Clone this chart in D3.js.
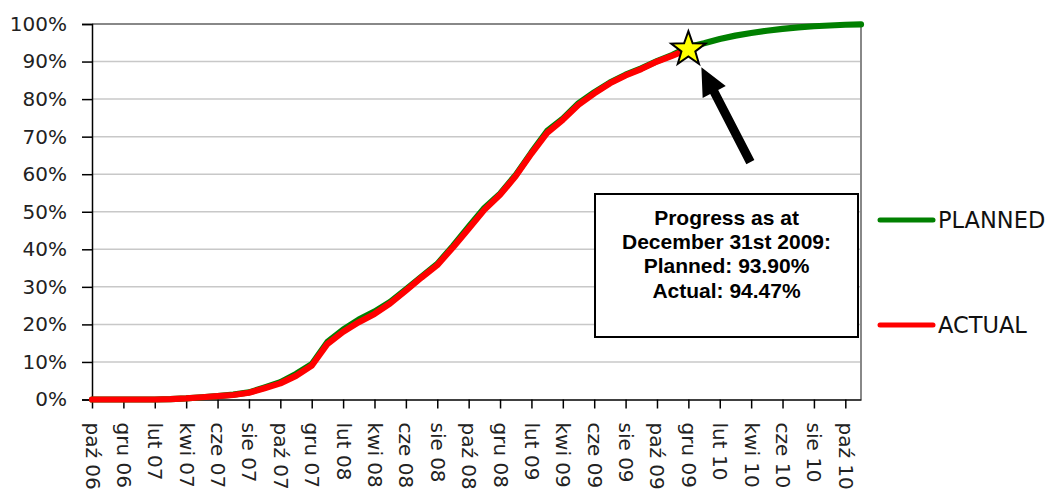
<!DOCTYPE html>
<html lang="pl">
<head>
<meta charset="UTF-8">
<title>Progress</title>
<script src="https://d3js.org/d3.v7.min.js"></script>
<style>
  body { margin: 0; background: #fff; }
  svg { display: block; }
  .tick-label { font-family: "DejaVu Sans", sans-serif; font-size: 20px; fill: #222; }
  .legend-label { font-family: "DejaVu Sans", sans-serif; font-size: 22.5px; fill: #111; }
  .note { font-family: "Liberation Sans", Arial, sans-serif; font-size: 21px; font-weight: bold; fill: #000; }
</style>
</head>
<body>
<div id="chart"></div>
<script>
// monthly categories, Oct 2006 .. Nov 2010
const months = [
  "paź 06", "lis 06", "gru 06", "sty 07", "lut 07", "mar 07", "kwi 07", "maj 07", "cze 07", "lip 07",
  "sie 07", "wrz 07", "paź 07", "lis 07", "gru 07", "sty 08", "lut 08", "mar 08", "kwi 08", "maj 08",
  "cze 08", "lip 08", "sie 08", "wrz 08", "paź 08", "lis 08", "gru 08", "sty 09", "lut 09", "mar 09",
  "kwi 09", "maj 09", "cze 09", "lip 09", "sie 09", "wrz 09", "paź 09", "lis 09", "gru 09", "sty 10",
  "lut 10", "mar 10", "kwi 10", "maj 10", "cze 10", "lip 10", "sie 10", "wrz 10", "paź 10", "lis 10"
];

// labelled months on the x axis (every second one)
const tickMonths = months.filter((m, i) => i % 2 === 0);

// cumulative progress, %
const planned = [
  0, 0, 0, 0, 0, 0.1, 0.3, 0.6, 0.9, 1.3,
  1.9, 3.2, 4.6, 6.8, 9.4, 15.3, 18.6, 21.3, 23.4, 26.0,
  29.3, 32.7, 36.1, 40.9, 46.0, 51.0, 54.8, 59.8, 65.8, 71.5,
  74.8, 78.9, 81.8, 84.4, 86.5, 88.2, 90.1, 91.8, 93.9, 94.9,
  96.0, 96.9, 97.6, 98.2, 98.7, 99.1, 99.4, 99.6, 99.8, 99.9
];
const actual = [
  0, 0, 0, 0, 0, 0.1, 0.3, 0.6, 0.9, 1.2,
  1.8, 3.0, 4.3, 6.3, 9.0, 14.8, 18.0, 20.6, 22.8, 25.6,
  29.0, 32.5, 35.8, 40.5, 45.5, 50.5, 54.5, 59.5, 65.5, 71.0,
  74.5, 78.5, 81.5, 84.2, 86.3, 88.0, 90.0, 91.6, 93.3
];

const yTicks = [0, 10, 20, 30, 40, 50, 60, 70, 80, 90, 100];

const series = [
  {name: "PLANNED", values: planned, color: "#008000"},
  {name: "ACTUAL", values: actual, color: "#ff0000"}
];

const noteLines = ["Progress as at", "December 31st 2009:", "Planned: 93.90%", "Actual: 94.47%"];
const starMonth = "gru 09";

const W = 1050, H = 491;
const svg = d3.select("#chart").append("svg")
  .attr("width", W)
  .attr("height", H);

const x = d3.scalePoint().domain(months).range([92, 861]);
const y = d3.scaleLinear().domain([0, 100]).range([399.5, 24]);

// gridlines
svg.append("g")
  .selectAll("line")
  .data(yTicks.filter(t => t > 0 && t < 100))
  .join("line")
    .attr("x1", 92).attr("x2", 861)
    .attr("y1", d => y(d)).attr("y2", d => y(d))
    .attr("stroke", "#c8c8c8")
    .attr("stroke-width", 1.5);

// plot border top/right
svg.append("path")
  .attr("d", `M92,${y(100)}H861V${y(0)}`)
  .attr("fill", "none")
  .attr("stroke", "#888")
  .attr("stroke-width", 2);

// y axis
const yAxis = svg.append("g")
  .attr("transform", "translate(92,0)")
  .call(d3.axisLeft(y).tickValues(yTicks).tickSize(10).tickPadding(15).tickFormat(d => d + "%"));
yAxis.select(".domain").attr("stroke", "#000").attr("stroke-width", 1.5);
yAxis.selectAll(".tick line").attr("stroke", "#000").attr("stroke-width", 1.5);
yAxis.selectAll(".tick text").attr("class", "tick-label").attr("font-size", null).attr("font-family", null);

// x axis
const xAxis = svg.append("g")
  .attr("transform", `translate(0,${y(0)})`)
  .call(d3.axisBottom(x).tickValues(tickMonths).tickSize(9).tickSizeOuter(0));
xAxis.select(".domain").attr("stroke", "#000").attr("stroke-width", 1.5);
xAxis.selectAll(".tick line").attr("stroke", "#000").attr("stroke-width", 1.5);
xAxis.selectAll(".tick text")
  .attr("class", "tick-label")
  .attr("font-size", null).attr("font-family", null)
  .attr("transform", "rotate(90)")
  .attr("x", 23)
  .attr("y", 0)
  .attr("dy", "0.35em")
  .attr("text-anchor", "start");

// lines
const line = d3.line()
  .x((d, i) => x(months[i]))
  .y(d => y(d));

svg.append("g")
  .selectAll("path")
  .data(series)
  .join("path")
    .attr("d", d => line(d.values))
    .attr("fill", "none")
    .attr("stroke", d => d.color)
    .attr("stroke-width", 6.2)
    .attr("stroke-linejoin", "round")
    .attr("stroke-linecap", "round");

// star marker at the reporting date
const sx = x(starMonth), sy = y(actual[months.indexOf(starMonth)]);
const R = 18, r = 7.3;
const starPts = d3.range(10).map(k => {
  const a = -Math.PI / 2 + k * Math.PI / 5;
  const rr = k % 2 === 0 ? R : r;
  return [sx + rr * Math.cos(a), sy + rr * Math.sin(a)];
});
svg.append("polygon")
  .attr("points", starPts.map(p => p.join(",")).join(" "))
  .attr("fill", "#ffff00")
  .attr("stroke", "#000")
  .attr("stroke-width", 2)
  .attr("stroke-linejoin", "miter");

// arrow pointing to the star
const tip = [sx + 13, sy + 18], tail = [sx + 62, sy + 113];
const dx = tip[0] - tail[0], dy = tip[1] - tail[1];
const len = Math.hypot(dx, dy), ux = dx / len, uy = dy / len, nx = -uy, ny = ux;
const headLen = 28, headW = 13, shaftW = 4.5;
const base = [tip[0] - ux * headLen, tip[1] - uy * headLen];
const arrowPts = [
  [tail[0] + nx * shaftW, tail[1] + ny * shaftW],
  [base[0] + nx * shaftW, base[1] + ny * shaftW],
  [base[0] + nx * headW, base[1] + ny * headW],
  tip,
  [base[0] - nx * headW, base[1] - ny * headW],
  [base[0] - nx * shaftW, base[1] - ny * shaftW],
  [tail[0] - nx * shaftW, tail[1] - ny * shaftW]
];
svg.append("polygon")
  .attr("points", arrowPts.map(p => p.join(",")).join(" "))
  .attr("fill", "#000");

// annotation box
svg.append("rect")
  .attr("x", 595).attr("y", 194)
  .attr("width", 263).attr("height", 143)
  .attr("fill", "#fff")
  .attr("stroke", "#000")
  .attr("stroke-width", 2);

svg.append("g")
  .selectAll("text")
  .data(noteLines)
  .join("text")
    .attr("class", "note")
    .attr("x", 726.5)
    .attr("y", (d, i) => 225 + i * 24.2)
    .attr("text-anchor", "middle")
    .text(d => d);

// legend
const legend = svg.append("g")
  .selectAll("g")
  .data(series)
  .join("g")
    .attr("transform", (d, i) => `translate(880,${220 + i * 105})`);
legend.append("line")
  .attr("x1", 0).attr("x2", 53)
  .attr("stroke", d => d.color)
  .attr("stroke-width", 5)
  .attr("stroke-linecap", "round");
legend.append("text")
  .attr("class", "legend-label")
  .attr("x", 58)
  .attr("y", 8)
  .text(d => d.name);
</script>
</body>
</html>
